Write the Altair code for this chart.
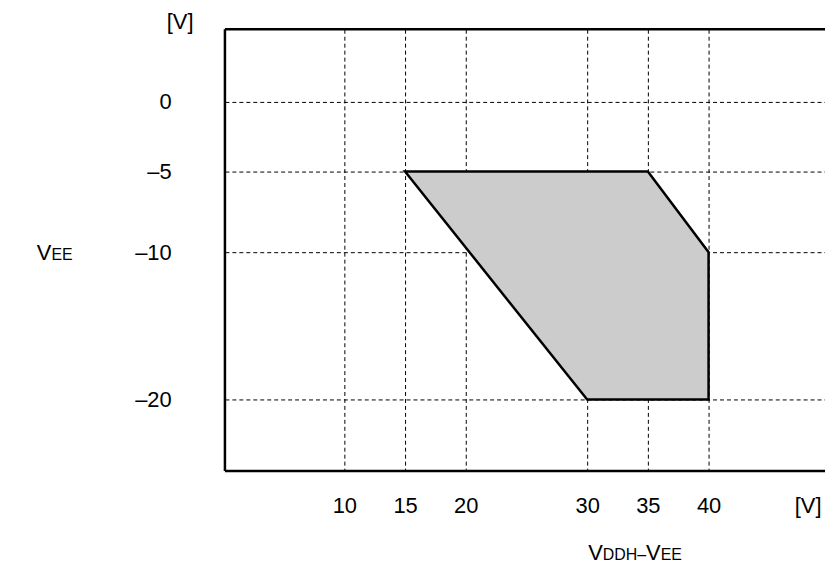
import altair as alt
import pandas as pd

# ---- data ----
x_ticks = [10, 15, 20, 30, 35, 40]
y_ticks = [0, -5, -10, -20]
region_x = [15, 30, 35, 40]
region_top = [-5, -5, -5, -10]
region_bottom = [-5, -20, -20, -20]

FONT = "Liberation Sans"
W, H = 603, 444

region = pd.DataFrame({"x": region_x, "top": region_top, "bottom": region_bottom})
one = pd.DataFrame({"a": [0]})

xscale = alt.Scale(domain=[0.164, 49.59], nice=False, zero=False)
yscale = alt.Scale(domain=[-25, -20, -10, -5, 0, 5],
                   range=[444, 372, 224, 143, 73, 0], nice=False, zero=False)

common_axis = dict(grid=True, gridDash=[4, 3], gridColor="black", gridWidth=1,
                   gridOpacity=1, domain=False, ticks=False, tickSize=0,
                   labelFont=FONT, labelFontSize=22, labelColor="black", title=None)

area = alt.Chart(region).mark_area(
    fill="#cccccc", stroke="black", strokeWidth=2.5, strokeJoin="miter", opacity=1
).encode(
    x=alt.X("x:Q", scale=xscale,
            axis=alt.Axis(values=x_ticks, labelPadding=25, **common_axis)),
    y=alt.Y("top:Q", scale=yscale,
            axis=alt.Axis(values=y_ticks, labelPadding=54,
                          labelExpr="datum.value < 0 ? '\u2013' + abs(datum.value) : '' + datum.value",
                          **common_axis)),
    y2="bottom:Q",
)

def rule(**enc):
    return alt.Chart(one).mark_rule(color="black", strokeWidth=2.5).encode(**enc)

borders = [
    rule(x=alt.value(0), y=alt.value(0), y2=alt.value(H)),
    rule(x=alt.value(0), x2=alt.value(W), y=alt.value(0)),
    rule(x=alt.value(0), x2=alt.value(W), y=alt.value(H)),
]

def text(s, x, y, size=22, align="center"):
    return alt.Chart(one).mark_text(
        font=FONT, fontSize=size, align=align, baseline="alphabetic", color="black"
    ).encode(x=alt.value(x), y=alt.value(y), text=alt.value(s))

ADV = {"V": 0.667, "E": 0.667, "D": 0.722, "H": 0.722, "\u2013": 0.556}

def smallcaps(segments, x0, y0):
    out = []
    x = x0
    for s, size in segments:
        out.append(text(s, x, y0, size=size, align="left"))
        x += sum(ADV.get(c, 0.6) for c in s) * size
    return out

BIG, SMALL = 22, 16
labels = [
    text("[V]", -45, 0),
    text("[V]", 586, 486),
] + smallcaps([("V", BIG), ("EE", SMALL)], -189, 232) \
  + smallcaps([("V", BIG), ("DDH\u2013", SMALL), ("V", BIG), ("EE", SMALL)], 365, 533)

chart = alt.layer(area, *borders, *labels).properties(
    width=W, height=H,
    padding={"left": 218, "top": 20, "right": 0, "bottom": 96},
    autosize="none",
).configure_view(stroke=None)

chart.save("out.html", embed_options={"renderer": "svg", "actions": False})
